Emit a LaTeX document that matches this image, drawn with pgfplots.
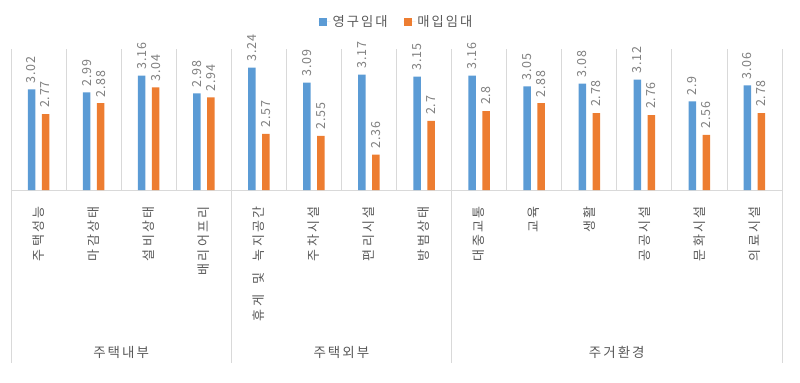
\documentclass[border=0pt]{standalone}
\usepackage{pgfplots}
\pgfplotsset{compat=1.18}
\usepackage{fontspec}
\newfontfamily\kr{Noto Sans CJK KR}[LetterSpace=15]
\newfontfamily\krc{Noto Sans CJK KR}[LetterSpace=18]
\newfontfamily\krn{Noto Sans CJK KR}[LetterSpace=6]
\definecolor{cblue}{HTML}{5B9BD5}
\definecolor{corange}{HTML}{ED7D31}
\definecolor{txt}{HTML}{595959}
\definecolor{lbl}{HTML}{7F7F7F}
\definecolor{gridc}{HTML}{D9D9D9}
\begin{document}
\begin{tikzpicture}
\useasboundingbox (0,0) rectangle (800bp,383bp);
\begin{axis}[
  at={(11bp,193bp)}, anchor=south west,
  scale only axis, width=771bp, height=141bp,
  xmin=-0.5, xmax=13.5, ymin=2, ymax=3.43,
  ybar=6.5bp, bar width=7.5bp,
  axis x line*=bottom, axis y line=none,
  x axis line style={draw=gridc, line width=0.8bp},
  xtick={0,...,13},
  xticklabels={주택성능,마감상태,설비상태,배리어프리,{휴게\hspace*{11bp}및\hspace*{11bp}녹지공간},주차시설,편리시설,방범상태,대중교통,교육,생활,공공시설,문화시설,의료시설},
  major tick length=0, minor tick length=0,
  minor xtick={-0.5,0.5,...,13.5},
  xminorgrids, minor grid style={draw=gridc, line width=0.8bp},
  xticklabel style={rotate=90, anchor=east, font=\krc\fontsize{13bp}{15bp}\selectfont, text=txt, inner sep=0pt},
  xticklabel shift=16bp,
  ytick=\empty,
  nodes near coords,
  every node near coord/.append style={rotate=90, anchor=west, font=\krn\fontsize{12.5bp}{15bp}\selectfont, text=lbl, inner sep=0pt, inner xsep=6bp},
  /pgf/number format/assume math mode=true,
  legend style={at={(0.5,1)}, anchor=center, yshift=27bp, draw=none, fill=none, font=\kr\fontsize{13.3bp}{15bp}\selectfont, text=txt,
    legend columns=2, /tikz/every even column/.append style={column sep=14bp}},
  legend image code/.code={\path (-4bp,0) -- (8bp,0); \fill[#1] (-4bp,-4bp) rectangle (4bp,4bp);},
  clip=false,
]
\addplot[fill=cblue, draw=none] coordinates {(0,3.02) (1,2.99) (2,3.16) (3,2.98) (4,3.24) (5,3.09) (6,3.17) (7,3.15) (8,3.16) (9,3.05) (10,3.08) (11,3.12) (12,2.9) (13,3.06)};
\addlegendentry{영구임대}
\addplot[fill=corange, draw=none] coordinates {(0,2.77) (1,2.88) (2,3.04) (3,2.94) (4,2.57) (5,2.55) (6,2.36) (7,2.7) (8,2.8) (9,2.88) (10,2.78) (11,2.76) (12,2.56) (13,2.78)};
\addlegendentry{매입임대}
\draw[gridc, line width=0.8bp] (axis cs:-0.5,2) -- ([yshift=-173bp]axis cs:-0.5,2);
\draw[gridc, line width=0.8bp] (axis cs:3.5,2) -- ([yshift=-173bp]axis cs:3.5,2);
\draw[gridc, line width=0.8bp] (axis cs:7.5,2) -- ([yshift=-173bp]axis cs:7.5,2);
\draw[gridc, line width=0.8bp] (axis cs:13.5,2) -- ([yshift=-173bp]axis cs:13.5,2);
\node[font=\kr\fontsize{13.5bp}{15bp}\selectfont, text=txt] at (axis cs:1.5,2) [yshift=-162bp] {주택내부};
\node[font=\kr\fontsize{13.5bp}{15bp}\selectfont, text=txt] at (axis cs:5.5,2) [yshift=-162bp] {주택외부};
\node[font=\kr\fontsize{13.5bp}{15bp}\selectfont, text=txt] at (axis cs:10.5,2) [yshift=-162bp] {주거환경};
\end{axis}
\end{tikzpicture}
\end{document}
